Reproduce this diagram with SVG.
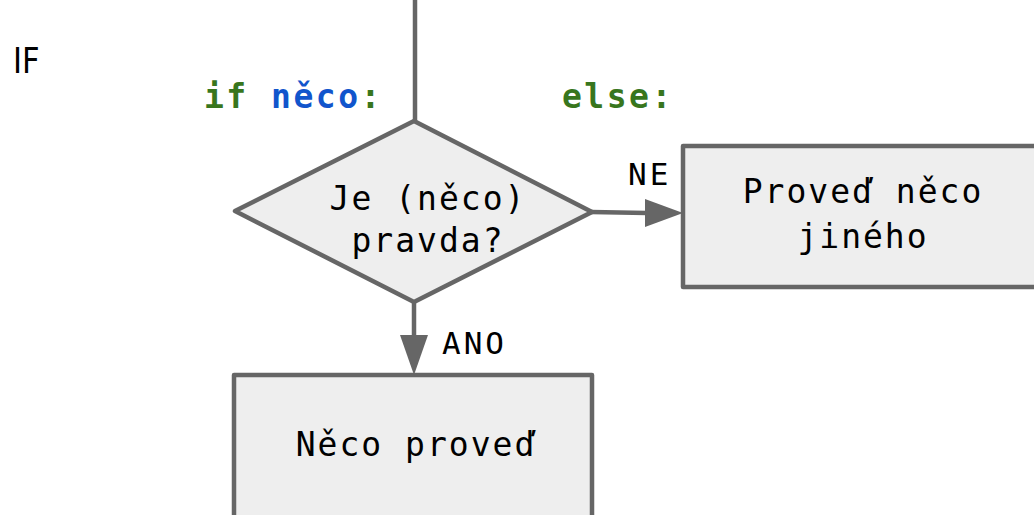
<svg xmlns="http://www.w3.org/2000/svg" width="1034" height="515" viewBox="0 0 1034 515">
<defs>
<style>
.shape{fill:#eeeeee;stroke:#666666;stroke-width:4.5;stroke-linejoin:round}
.conn{stroke:#666666;stroke-width:4.5;fill:none}
.t{font-family:"DejaVu Sans Mono","Liberation Mono",monospace;font-size:33px;letter-spacing:2px;fill:#000}
.lbl{font-family:"DejaVu Sans Mono","Liberation Mono",monospace;font-size:31px;letter-spacing:3px;fill:#000}
.code{font-family:"DejaVu Sans Mono","Liberation Mono",monospace;font-size:33px;font-weight:bold;letter-spacing:2.5px}
</style>
</defs>
<rect width="1034" height="515" fill="#ffffff"/>
<text x="13" y="73" font-family="DejaVu Sans, sans-serif" font-size="36" fill="#000" transform="translate(13,73) scale(0.85,1) translate(-13,-73)">IF</text>
<text class="code" x="204" y="108"><tspan fill="#38761d">if </tspan><tspan fill="#1155cc">něco</tspan><tspan fill="#38761d">:</tspan></text>
<text class="code" x="562" y="108" fill="#38761d">else:</text>
<g id="connectors">
<line class="conn" x1="415" y1="0" x2="415" y2="121"/>
<line class="conn" x1="591" y1="212" x2="647" y2="213"/>
<path d="M645,199 L683,213 L645,227 z" fill="#666666"/>
<line class="conn" x1="414" y1="302" x2="414" y2="337"/>
<path d="M400,335 L414,375 L428,335 z" fill="#666666"/>
<text class="lbl" x="628" y="185">NE</text>
<text class="lbl" x="442" y="354">ANO</text>
</g>
<g id="decision">
<polygon class="shape" points="414,121 592,212 414,302 235,211"/>
<text class="t" x="428" y="210" text-anchor="middle">Je (něco)</text>
<text class="t" x="428" y="252" text-anchor="middle">pravda?</text>
</g>
<g id="else-box">
<rect class="shape" x="683" y="146" width="360" height="141"/>
<text class="t" x="863" y="203" text-anchor="middle">Proveď něco</text>
<text class="t" x="863" y="248" text-anchor="middle">jiného</text>
</g>
<g id="then-box">
<rect class="shape" x="234" y="375" width="358" height="150"/>
<text class="t" x="416" y="456" text-anchor="middle">Něco proveď</text>
</g>
</svg>
